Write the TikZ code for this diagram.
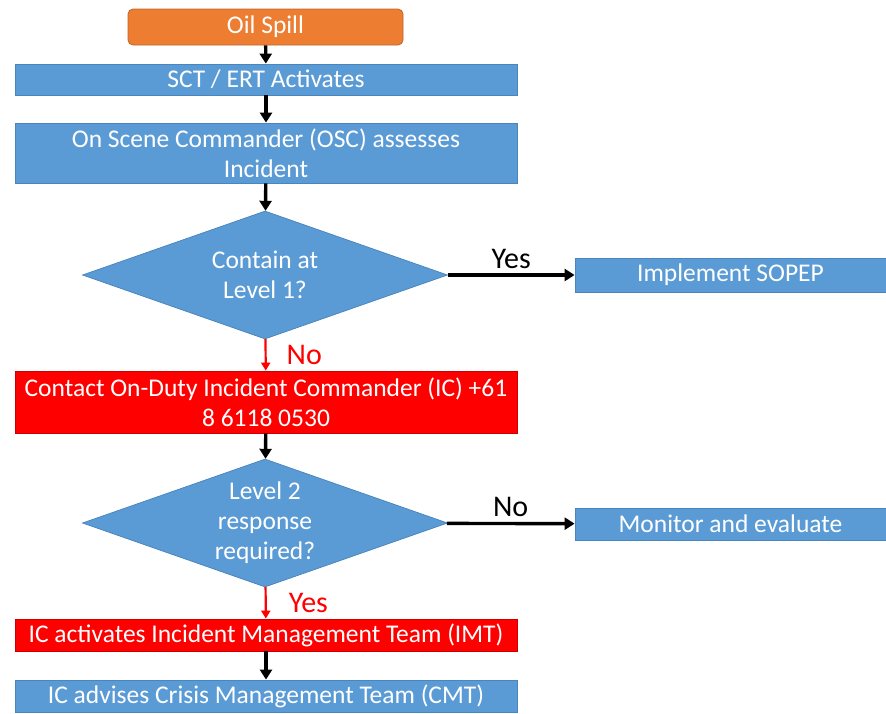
\documentclass[tikz,border=0pt]{standalone}
\usepackage{fontspec}
\setmainfont{Carlito}
\usetikzlibrary{shapes.geometric,arrows.meta}
\definecolor{stepblue}{HTML}{5B9BD5}
\definecolor{stepedge}{HTML}{4A86BE}
\definecolor{spillorange}{HTML}{ED7D31}
\definecolor{spilledge}{HTML}{C0652A}
\definecolor{alertred}{HTML}{FF0000}
\begin{document}
\begin{tikzpicture}[x=1pt, y=-1pt, auto, >={Triangle[length=10pt,width=12pt]}, line width=3.4pt,
  main box/.style={rectangle, fill=stepblue, draw=stepedge, line width=.8pt, text=white, minimum width=502pt, minimum height=31pt, inner sep=0pt, align=center},
  red box/.style={main box, fill=alertred, draw=red!80!black},
  side box/.style={main box, minimum width=311pt, minimum height=34pt},
  start box/.style={main box, rounded corners=5pt, fill=spillorange, draw=spilledge, minimum width=275pt, minimum height=36pt},
  decision/.style={diamond, fill=stepblue, draw=stepedge, line width=.8pt, text=white, aspect=2.85, minimum width=365pt, minimum height=128pt, inner sep=0pt, align=center},
  red flow/.style={->, red, line width=2.2pt, >={Triangle[length=8pt,width=9pt]}}]
\useasboundingbox (0,0) rectangle (886,713);
\begin{scope}[every node/.style={font=\fontsize{25.5}{30}\selectfont}]
\node [start box](spill) at (265.5,27) {Oil Spill};
\node [main box](sct) at (266,79.5) {SCT / ERT Activates};
\node [main box, minimum height=60pt](osc) at (266,153) {On Scene Commander (OSC) assesses\\Incident};
\node [decision](lvl1) at (265,275) {Contain at\\Level 1?};
\node [side box](sopep) at (730.5,275) {Implement SOPEP};
\node [red box, minimum height=62pt](ic) at (266,402) {Contact On-Duty Incident Commander (IC) +61\\8 6118 0530};
\node [decision](lvl2) at (265,523) {Level 2\\response\\required?};
\node [side box, minimum height=32pt](monitor) at (730.5,524) {Monitor and evaluate};
\node [red box, minimum height=32pt](imt) at (266,635) {IC activates Incident Management Team (IMT)};
\node [main box, minimum height=32pt](cmt) at (266,696) {IC advises Crisis Management Team (CMT)};
\end{scope}
\begin{scope}[every node/.style={font=\fontsize{30}{36}\selectfont, inner sep=5pt}]
\draw [->] (spill) edge (sct);
\draw [->] (sct) edge (osc);
\draw [->] (osc) edge (lvl1);
\draw [->] (lvl1) edge node {Yes} (sopep);
\draw [red flow] (lvl1) edge node [right=15pt] {No} (ic);
\draw [->] (ic) edge (lvl2);
\draw [->] (lvl2) edge node {No} (monitor);
\draw [red flow] (lvl2) edge node [right=17pt] {Yes} (imt);
\draw [->] (imt) edge (cmt);
\end{scope}
\end{tikzpicture}
\end{document}
